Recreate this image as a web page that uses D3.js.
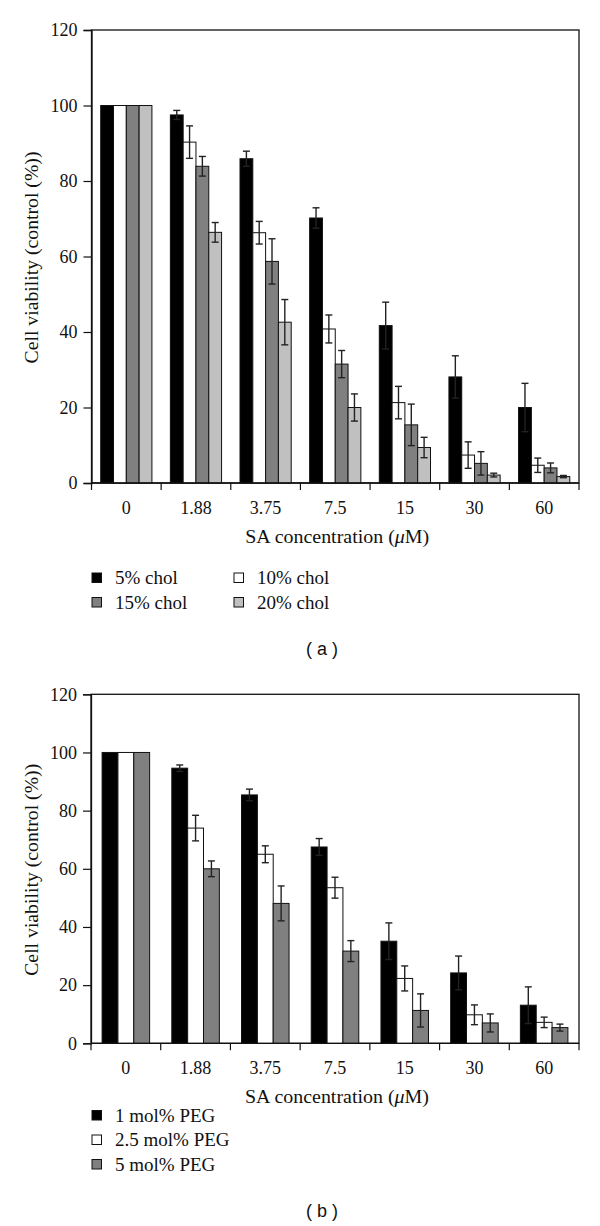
<!DOCTYPE html>
<html><head><meta charset="utf-8">
<script src="https://cdn.jsdelivr.net/npm/d3@7"></script>
<style>body{margin:0;background:#fff}svg{display:block}</style>
</head><body>
<svg id="c" width="600" height="1226"></svg>
<script>
const categories = ["0","1.88","3.75","7.5","15","30","60"];
const yTicks = [0,20,40,60,80,100,120];

// Panel (a)
const cholSeries = ["5% chol","10% chol","15% chol","20% chol"];
const chol5  = [100,97.5,85.9,70.2,41.7,28.1,20.0];
const chol5Err  = [0,1.2,2.0,2.7,6.2,5.6,6.4];
const chol10 = [100,90.3,66.3,40.8,21.3,7.4,4.7];
const chol10Err = [0,4.3,3.0,3.7,4.3,3.5,1.9];
const chol15 = [100,83.9,58.7,31.5,15.4,5.2,4.0];
const chol15Err = [0,2.6,6.0,3.6,5.5,3.1,1.3];
const chol20 = [100,66.4,42.6,20.0,9.4,2.1,1.7];
const chol20Err = [0,2.6,6.0,3.6,2.7,0.5,0.3];

// Panel (b)
const pegSeries = ["1 mol% PEG","2.5 mol% PEG","5 mol% PEG"];
const peg1  = [100,94.6,85.4,67.5,35.1,24.2,13.1];
const peg1Err  = [0,1.1,2.0,2.9,6.3,5.8,6.3];
const peg25 = [100,74.0,65.0,53.5,22.3,9.8,7.2];
const peg25Err = [0,4.4,2.9,3.6,4.3,3.4,1.8];
const peg5  = [100,60.0,48.1,31.7,11.3,7.0,5.4];
const peg5Err  = [0,2.7,6.0,3.6,5.7,3.1,1.2];

const svg = d3.select("#c");
const SERIF = "'Liberation Serif','Times New Roman',serif";

function panel(opt){
  const g = svg.append("g");
  const x0 = d3.scaleBand().domain(categories).range([opt.left, opt.right]).padding(0);
  const x1 = d3.scaleBand().domain(opt.series).range([0, x0.bandwidth()]).paddingInner(0).paddingOuter(opt.pad);
  const y = d3.scaleLinear().domain([0,120]).range([opt.bottom, opt.top]);

  // frame
  g.append("rect").attr("x",opt.left).attr("y",opt.top)
    .attr("width",opt.right-opt.left).attr("height",opt.bottom-opt.top)
    .attr("fill","none").attr("stroke","#111").attr("stroke-width",1.3);

  // bars
  opt.series.forEach((s,si)=>{
    const vals = opt.values[si], errs = opt.errors[si];
    g.append("g").selectAll("rect").data(categories).join("rect")
      .attr("x",c=>x0(c)+x1(s)).attr("width",x1.bandwidth())
      .attr("y",(c,i)=>y(vals[i])).attr("height",(c,i)=>y(0)-y(vals[i]))
      .attr("fill",opt.colors[si]).attr("stroke","#111").attr("stroke-width",1);
    const eg = g.append("g").attr("stroke","#222").attr("stroke-width",1.4);
    categories.forEach((c,i)=>{
      if(!errs[i]) return;
      const cx = x0(c)+x1(s)+x1.bandwidth()/2;
      const hi = y(vals[i]+errs[i]), lo = y(vals[i]-errs[i]);
      eg.append("line").attr("x1",cx).attr("x2",cx).attr("y1",hi).attr("y2",lo);
      eg.append("line").attr("x1",cx-3.5).attr("x2",cx+3.5).attr("y1",hi).attr("y2",hi);
      eg.append("line").attr("x1",cx-3.5).attr("x2",cx+3.5).attr("y1",lo).attr("y2",lo);
    });
  });

  // y axis
  const ya = d3.axisLeft(y).tickValues(yTicks).tickSize(8).tickPadding(6);
  const yg = g.append("g").attr("transform",`translate(${opt.left},0)`).call(ya);
  yg.select(".domain").attr("stroke","#111").attr("stroke-width",1.3);
  yg.selectAll(".tick line").attr("stroke","#111").attr("stroke-width",1.2);
  yg.selectAll("text").attr("font-family",SERIF).attr("font-size",18).attr("fill","#111");

  // x axis with ticks at category boundaries
  const xg = g.append("g");
  xg.append("line").attr("x1",opt.left).attr("x2",opt.right).attr("y1",opt.bottom).attr("y2",opt.bottom)
    .attr("stroke","#111").attr("stroke-width",1.3);
  const bounds = categories.map(c=>x0(c)).concat([opt.right]);
  xg.selectAll("line.t").data(bounds).join("line").attr("class","t")
    .attr("x1",d=>d).attr("x2",d=>d).attr("y1",opt.bottom).attr("y2",opt.bottom+7)
    .attr("stroke","#111").attr("stroke-width",1.2);
  xg.selectAll("text").data(categories).join("text")
    .attr("x",c=>x0(c)+x0.bandwidth()/2).attr("y",opt.bottom+31)
    .attr("text-anchor","middle").attr("font-family",SERIF).attr("font-size",18).attr("fill","#111")
    .text(c=>c);

  // axis titles
  const xt = g.append("text").attr("x",(opt.left+opt.right)/2+2).attr("y",opt.xTitleY)
    .attr("text-anchor","middle").attr("font-family",SERIF).attr("font-size",19).attr("fill","#111")
    .attr("textLength",184).attr("lengthAdjust","spacingAndGlyphs");
  xt.append("tspan").text("SA concentration (");
  xt.append("tspan").attr("font-style","italic").text("\u03bc");
  xt.append("tspan").text("M)");
  g.append("text").attr("transform",`translate(38,${(opt.top+opt.bottom)/2+1}) rotate(-90)`)
    .attr("text-anchor","middle").attr("font-family",SERIF).attr("font-size",19).attr("fill","#111")
    .attr("textLength",opt.yTitleLen).attr("lengthAdjust","spacingAndGlyphs")
    .text("Cell viability (control (%))");

  // legend
  const lg = g.append("g");
  opt.series.forEach((s,si)=>{
    const p = opt.legendPos[si];
    lg.append("rect").attr("x",p[0]).attr("y",p[1]-10).attr("width",9.5).attr("height",9.5)
      .attr("fill",opt.colors[si]).attr("stroke","#111").attr("stroke-width",1);
    lg.append("text").attr("x",p[0]+23).attr("y",p[1]+1).attr("font-family",SERIF).attr("font-size",19)
      .attr("fill","#111").text(s);
  });

  // panel label
  g.append("text").attr("x",322).attr("y",opt.labelY).attr("text-anchor","middle")
    .attr("font-family","'Liberation Sans',Arial,sans-serif").attr("font-size",18).attr("fill","#111")
    .text(opt.label);
}

panel({
  left:91.5, right:579, top:30, bottom:483, pad:0.72,
  series:cholSeries,
  values:[chol5,chol10,chol15,chol20],
  errors:[chol5Err,chol10Err,chol15Err,chol20Err],
  colors:["#000000","#ffffff","#808080","#c0c0c0"],
  xTitleY:543, yTitleLen:212,
  legendPos:[[92,583],[234,583],[92,607.5],[234,607.5]],
  label:"( a )", labelY:655
});

panel({
  left:91, right:579, top:694.3, bottom:1043.3, pad:0.7,
  series:pegSeries,
  values:[peg1,peg25,peg5],
  errors:[peg1Err,peg25Err,peg5Err],
  colors:["#000000","#ffffff","#808080"],
  xTitleY:1103, yTitleLen:212,
  legendPos:[[92,1120.5],[92,1145],[92,1169.5]],
  label:"( b )", labelY:1217
});
</script>
</body></html>
